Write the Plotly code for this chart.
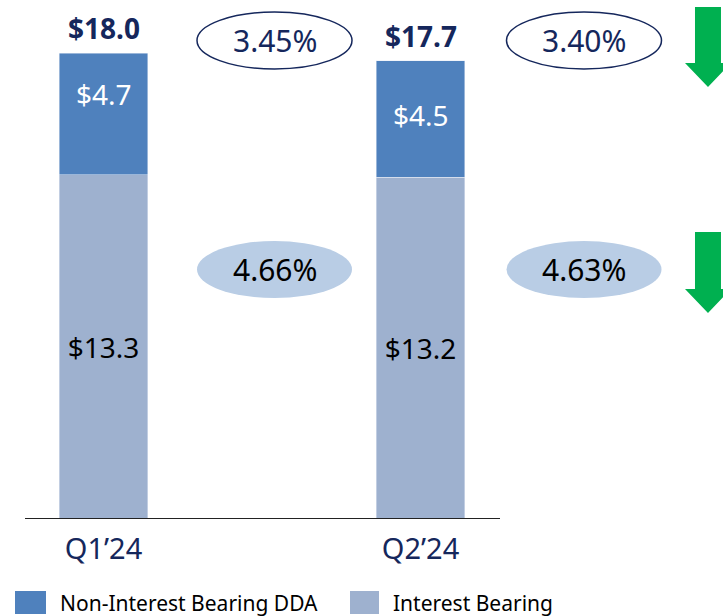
import plotly.graph_objects as go

# ---- data ----
quarters = ["Q1\u201924", "Q2\u201924"]
interest_bearing = [13.3, 13.2]
non_interest_dda = [4.7, 4.5]
totals = [18.0, 17.7]
total_cost = ["3.45%", "3.40%"]
ib_cost = ["4.66%", "4.63%"]
series_names = ["Non-Interest Bearing DDA", "Interest Bearing"]

# ---- style ----
C_DDA = "#4f81bd"
C_IB = "#9eb1cf"
NAVY = "#15275c"
ELL_FILL = "#b9cde5"
GREEN = "#00b050"
FONT = "Noto Sans"
W, H = 723, 616
PLOT_BOTTOM = 519
XSCALE = 317.0
X0 = 103.5
YSCALE = 466 / 18.0
ELL_CX_PX = [274.5, 584.0]


def px2x(px):
    return (px - X0) / XSCALE


def px2y(py):
    return (PLOT_BOTTOM - py) / YSCALE


def pypaper(py):
    return (PLOT_BOTTOM - py) / PLOT_BOTTOM


xs = list(range(len(quarters)))
fig = go.Figure()
fig.add_bar(x=xs, y=interest_bearing, name=series_names[1], marker_color=C_IB,
            width=0.278, text=[f"${v:.1f}" for v in interest_bearing],
            textposition="inside", insidetextanchor="middle",
            textfont=dict(family=FONT, size=28, color="#000000"),
            hoverinfo="skip", showlegend=False)
fig.add_bar(x=xs, y=non_interest_dda, name=series_names[0], marker_color=C_DDA,
            width=0.278, hoverinfo="skip", showlegend=False)
fig.update_layout(barmode="stack")

ann = []
shapes = []
dda_shift = [20, 4]
half_w = 77.5 / XSCALE
for i in xs:
    # DDA label
    ann.append(dict(x=i, y=interest_bearing[i] + non_interest_dda[i] / 2, yshift=dda_shift[i],
                    text=f"${non_interest_dda[i]:.1f}", showarrow=False,
                    font=dict(family=FONT, size=28, color="white")))
    # total label
    ann.append(dict(x=i, y=totals[i], yshift=25, text=f"<b>${totals[i]:.1f}</b>",
                    showarrow=False, font=dict(family=FONT, size=28, color=NAVY)))
    # outlined ellipse (total cost)
    cx = px2x(ELL_CX_PX[i])
    shapes.append(dict(type="circle", xref="x", yref="y",
                       x0=cx - half_w, x1=cx + half_w,
                       y0=px2y(69), y1=px2y(12),
                       line=dict(color=NAVY, width=1.5), fillcolor="rgba(0,0,0,0)"))
    ann.append(dict(x=cx, y=px2y(40.5), text=total_cost[i], showarrow=False,
                    font=dict(family=FONT, size=30, color=NAVY)))
    # filled ellipse (interest bearing cost)
    shapes.append(dict(type="circle", xref="x", yref="y", layer="below",
                       x0=cx - half_w, x1=cx + half_w,
                       y0=px2y(298), y1=px2y(241),
                       line=dict(width=0), fillcolor=ELL_FILL))
    ann.append(dict(x=cx, y=px2y(269.5), text=ib_cost[i], showarrow=False,
                    font=dict(family=FONT, size=30, color="#000000")))

# green down arrows
def arrow_path(cxp, top, head_start, tip):
    pts = [(cxp - 13, top), (cxp + 13, top), (cxp + 13, head_start), (cxp + 23, head_start),
           (cxp, tip), (cxp - 23, head_start), (cxp - 13, head_start)]
    return "M " + " L ".join(f"{px2x(a):.4f},{px2y(b):.4f}" for a, b in pts) + " Z"

for top, hs, tip in [(7, 63, 87), (232, 289, 313)]:
    shapes.append(dict(type="path", xref="x", yref="y", path=arrow_path(708, top, hs, tip),
                       fillcolor=GREEN, line=dict(width=0)))

# axis line
shapes.append(dict(type="line", xref="x", yref="y", x0=px2x(25), x1=px2x(500), y0=0, y1=0,
                   line=dict(color="#222222", width=2)))

# manual legend
leg = [(15, 46, 58, C_DDA, series_names[0]), (350, 379, 391, C_IB, series_names[1])]
for x0p, x1p, tx, col, name in leg:
    shapes.append(dict(type="rect", xref="paper", yref="paper",
                       x0=x0p / W, x1=x1p / W, y0=pypaper(614), y1=pypaper(591),
                       fillcolor=col, line=dict(width=0)))
    ann.append(dict(xref="paper", yref="paper", x=tx / W, y=pypaper(603), xanchor="left",
                    yanchor="middle", text=name, showarrow=False,
                    font=dict(family=FONT, size=21, color="#000000")))

fig.update_layout(
    width=W, height=H, margin=dict(l=0, r=0, t=0, b=H - PLOT_BOTTOM),
    plot_bgcolor="white", paper_bgcolor="white",
    xaxis=dict(range=[px2x(0), px2x(W)], tickvals=xs, ticktext=quarters, showgrid=False,
               zeroline=False, showline=False, ticks="", ticklen=0, ticklabelstandoff=10,
               tickfont=dict(family=FONT, size=29, color=NAVY)),
    yaxis=dict(range=[0, px2y(0)], visible=False),
    annotations=ann, shapes=shapes, showlegend=False,
)
fig.write_html("out.html", config={"displayModeBar": False},
               post_script="document.body.style.margin='0';document.body.style.overflow='hidden';")
